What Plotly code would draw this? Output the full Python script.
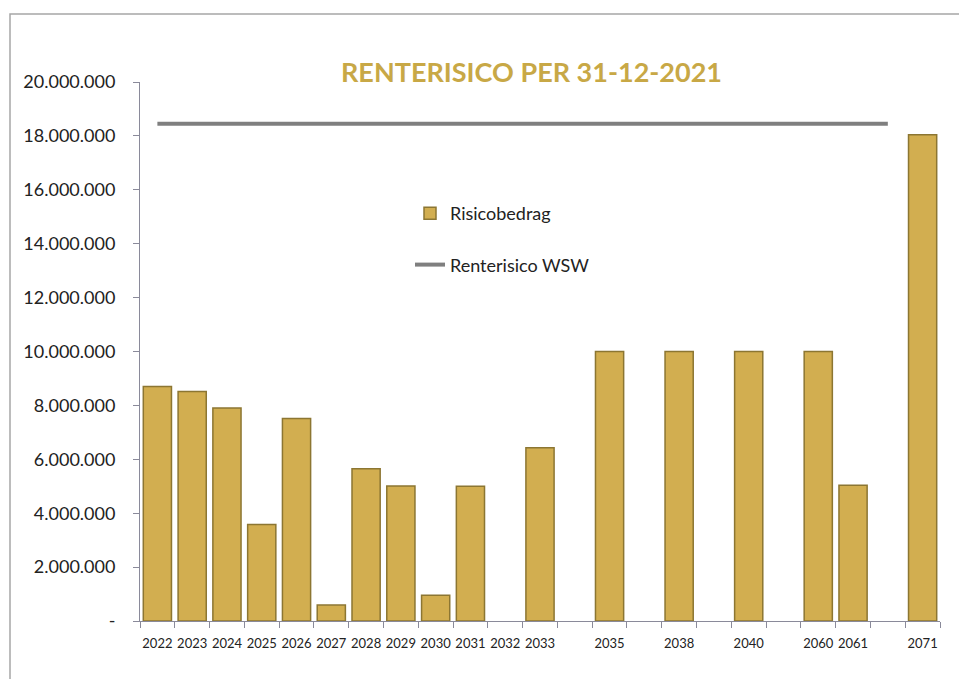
import plotly.graph_objects as go

categories = ["2022", "2023", "2024", "2025", "2026", "2027", "2028", "2029", "2030",
              "2031", "2032", "2033", " ", "2035", "  ", "2038", "   ", "2040",
              "    ", "2060", "2061", "     ", "2071"]
risicobedrag = [8700000, 8520000, 7900000, 3580000, 7510000, 590000, 5650000, 5010000,
                960000, 5000000, None, 6430000, None, 10000000, None, 10000000, None,
                10000000, None, 10000000, 5040000, None, 18040000]
renterisico_wsw = [18450000] * 22 + [None]

y_tickvals = [0, 2000000, 4000000, 6000000, 8000000, 10000000, 12000000, 14000000,
              16000000, 18000000, 20000000]
y_ticktext = ["-", "2.000.000", "4.000.000", "6.000.000", "8.000.000", "10.000.000",
              "12.000.000", "14.000.000", "16.000.000", "18.000.000", "20.000.000"]

FONT = "Lato, 'Open Sans', sans-serif"

fig = go.Figure()
fig.add_trace(go.Bar(
    x=categories, y=risicobedrag, name="Risicobedrag",
    marker=dict(color="#D2AE50", line=dict(color="#8C7632", width=1.5)),
    legendgroup="a",
))
fig.add_trace(go.Scatter(
    x=categories, y=renterisico_wsw, name="Renterisico WSW", mode="lines",
    line=dict(color="#7F7F7F", width=4), connectgaps=False,
    legendgroup="b",
))

L, R, T, B = 140, 19, 82, 58
W, H = 959, 679
pw, ph = W - L - R, H - T - B

fig.update_layout(
    width=W, height=H,
    margin=dict(l=L, r=R, t=T, b=B),
    paper_bgcolor="white", plot_bgcolor="white",
    bargap=0.19,
    showlegend=True,
    legend=dict(x=(410 - L) / pw, y=(621 - 195) / ph, xanchor="left", yanchor="top",
                bgcolor="rgba(0,0,0,0)", font=dict(family=FONT, size=18, color="#222"),
                tracegroupgap=25, traceorder="grouped"),
    font=dict(family=FONT),
    xaxis=dict(type="category", categoryorder="array", categoryarray=categories,
               tickson="boundaries", ticks="outside", ticklen=6, tickcolor="#8A8A9A",
               showline=True, linecolor="#8A8A9A", linewidth=1, showgrid=False,
               tickfont=dict(family=FONT, size=13, color="#222"), tickangle=0,
               ticklabelstandoff=10),
    yaxis=dict(range=[0, 20000000], tickvals=y_tickvals, ticktext=y_ticktext,
               ticks="outside", ticklen=6, tickcolor="#8A8A9A", showline=True,
               linecolor="#8A8A9A", linewidth=1, showgrid=False, zeroline=False,
               tickfont=dict(family=FONT, size=18, color="#222"), ticklabelstandoff=14),
    annotations=[dict(text="<b>RENTERISICO PER 31-12-2021</b>", xref="paper", yref="paper",
                      x=(531 - L) / pw, y=(621 - 72) / ph, xanchor="center", yanchor="middle",
                      showarrow=False, font=dict(family=FONT, size=27, color="#C8A846"))],
    shapes=[dict(type="rect", xref="paper", yref="paper",
                 x0=(10 - L) / pw, x1=(975 - L) / pw,
                 y0=(621 - 700) / ph, y1=(621 - 14) / ph,
                 line=dict(color="#A6A6A6", width=1.5), layer="below")],
)

fig.write_html("out.html")
